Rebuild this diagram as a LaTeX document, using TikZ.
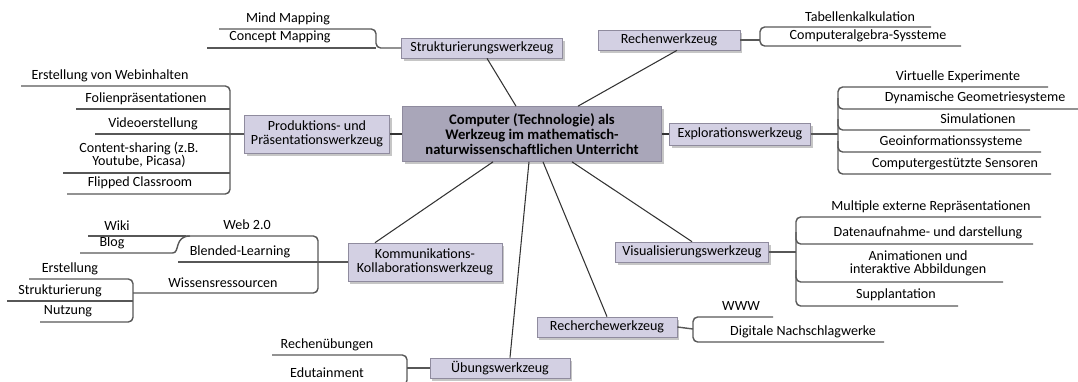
\documentclass[tikz,border=0pt]{standalone}
\usepackage{fontspec}
\setmainfont{Carlito}
\usepackage{tikz}
\usetikzlibrary{shadows}
\usetikzlibrary{calc}

\definecolor{topicfill}{HTML}{D3D0E3}
\definecolor{mainfill}{HTML}{A9A6B9}
\definecolor{boxline}{HTML}{8F8B9E}
\definecolor{branch}{HTML}{575757}

\tikzset{
    topic/.style={draw=boxline, fill=topicfill, line width=0.6pt,
        drop shadow={opacity=0.45, shadow xshift=2pt, shadow yshift=-2.5pt},
        align=center, inner sep=1pt, minimum height=0.6cm,
        font=\fontsize{12}{11.5}\selectfont},
    mainbox/.style={topic, fill=mainfill, minimum width=7.77cm, minimum height=1.65cm,
        font=\fontsize{12.5}{12.6}\selectfont\bfseries},
    leaf/.style={align=center, inner sep=1pt, font=\fontsize{12}{11}\selectfont},
    twig/.style={draw=branch, line width=1.2pt, rounded corners=4pt},
    spoke/.style={draw=black!80, line width=0.9pt}
}

\begin{document}
\begin{tikzpicture}[x=0.03cm, y=-0.03cm]
\clip (0,0) rectangle (1078,381);

% main topic and tools
\node[mainbox] at (532,134) (central) {Computer (Technologie) als\\Werkzeug im mathematisch-\\naturwissenschaftlichen Unterricht};
\node[topic, minimum width=4.83cm] at (482,48) (strukt) {Strukturierungswerkzeug};
\node[topic, minimum width=4.26cm] at (669,40) (rechen) {Rechenwerkzeug};
\node[topic, minimum width=4.35cm, minimum height=1.14cm] at (317,134) (produktion) {Produktions- und\\Präsentationswerkzeug};
\node[topic, minimum width=4.23cm, minimum height=0.66cm] at (740,134) (explor) {Explorationswerkzeug};
\node[topic, minimum width=4.62cm, minimum height=1.14cm] at (425,262) (kommun) {Kommunikations-\\Kollaborationswerkzeug};
\node[topic, minimum width=4.2cm] at (500,368) (uebung) {Übungswerkzeug};
\node[topic, minimum width=4.2cm] at (607,327) (recherche) {Recherchewerkzeug};
\node[topic, minimum width=4.59cm] at (692,252) (visual) {Visualisierungswerkzeug};

\draw[spoke] ($(central.north)+(-16,0)$) -- ($(strukt.south)+(5,0)$);
\draw[spoke] ($(central.north)+(46,0)$) -- ($(rechen.south)+(8,0)$);
\draw[spoke] (produktion.east) -- (central.west);
\draw[spoke] (central.east) -- (explor.west);
\draw[spoke] ($(central.south)+(-39,0)$) -- ($(kommun.north)+(-50,0)$);
\draw[spoke] ($(central.south)+(-3,0)$) -- ($(uebung.north)+(10,0)$);
\draw[spoke] ($(central.south)+(11,0)$) -- (recherche.north);
\draw[spoke] ($(central.south)+(40,0)$) -- (visual.north);

% Strukturierung
\node[leaf] at (288,19) (mindmap) {Mind Mapping};
\node[leaf] at (280,37) (conceptmap) {Concept Mapping};
\draw[twig] (219,29) -| (376,48) -- (strukt.west);
\draw[twig] (207,48) -- (376,48);

% Rechen
\node[leaf] at (860,17) (tabkalk) {Tabellenkalkulation};
\node[leaf] at (868,36) (cas) {Computeralgebra-Syssteme};
\draw[twig] (rechen.east) -- (760,40);
\draw[twig] (931,27) -| (760,46) -- (961,46);

% Exploration
\node[leaf] at (958,77) (virtexp) {Virtuelle Experimente};
\node[leaf] at (975,98) (dgs) {Dynamische Geometriesysteme};
\node[leaf] at (978,119) (simul) {Simulationen};
\node[leaf] at (951,142) (geoinf) {Geoinformationssysteme};
\node[leaf] at (955,164) (sensoren) {Computergestützte Sensoren};
\draw[twig] (explor.east) -- (838,134);
\draw[twig] (1048,87) -| (838,174) -- (1051,174);
\draw[twig] (838,98) |- (1078,109);
\draw[twig] (838,119) |- (1030,130);
\draw[twig] (838,141) |- (1041,152);

% Produktion
\node[leaf] at (110,76) (webinh) {Erstellung von Webinhalten};
\node[leaf] at (146,99) (folien) {Folienpräsentationen};
\node[leaf] at (153,124) (video) {Videoerstellung};
\node[leaf] at (139,155) (content) {Content-sharing (z.B.\\Youtube, Picasa)};
\node[leaf] at (140,183) (flipped) {Flipped Classroom};
\draw[twig] (21,86) -| (230,194) -- (67,194);
\draw[twig] (76,109) -- (230,109);
\draw[twig] (95,134) -- (produktion.west);
\draw[twig] (63,173) -- (230,173);

% Kommunikation
\node[leaf] at (247,225) (web) {Web 2.0};
\node[leaf] at (117,226) (wiki) {Wiki};
\node[leaf] at (112,243) (blog) {Blog};
\node[leaf] at (240,252) (blended) {Blended-Learning};
\node[leaf] at (223,283) (wissen) {Wissensressourcen};
\node[leaf] at (70,269) (erstell) {Erstellung};
\node[leaf] at (60,291) (struktur) {Strukturierung};
\node[leaf] at (68,311) (nutzung) {Nutzung};
\draw[twig] (178,262) -- (kommun.west);
\draw[twig] (186,236) -| (318,293) -- (133,293);
\draw[twig] (88,236) -- (186,236);
\draw[twig] (80,253) -- (168,253) .. controls (180,253) and (174,236) .. (190,236);
\draw[twig] (29,279) -| (133,322) -- (40,322);
\draw[twig] (7,301) -- (133,301);

% Uebung
\node[leaf] at (327,345) (rechenueb) {Rechenübungen};
\node[leaf] at (327,373) (edutain) {Edutainment};
\draw[twig] (uebung.west) -- (407,368);
\draw[twig] (272,355) -| (407,385) -- (272,385);

% Recherche
\node[leaf] at (741,306) (www) {WWW};
\node[leaf] at (803,332) (nachschlag) {Digitale Nachschlagwerke};
\draw[twig] (recherche.east) -- (693,329);
\draw[twig] (773,317) -| (693,342) -- (884,342);

% Visualisierung
\node[leaf] at (931,207) (multirep) {Multiple externe Repräsentationen};
\node[leaf] at (928,233) (datenauf) {Datenaufnahme- und darstellung};
\node[leaf] at (918,263) (animat) {Animationen und\\interaktive Abbildungen};
\node[leaf] at (896,295) (supplant) {Supplantation};
\draw[twig] (visual.east) -- (796,252);
\draw[twig] (1041,217) -| (796,306) -- (958,306);
\draw[twig] (796,232) |- (1033,244);
\draw[twig] (796,270) |- (1003,282);
\end{tikzpicture}
\end{document}
